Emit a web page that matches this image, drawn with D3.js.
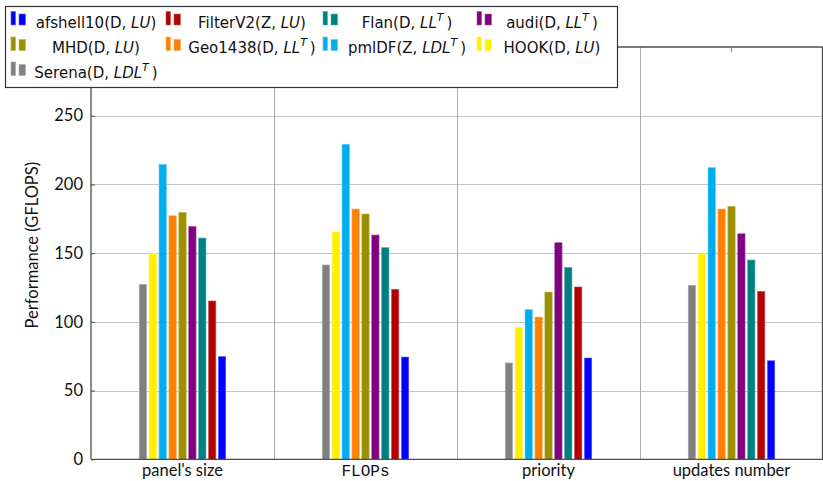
<!DOCTYPE html>
<html>
<head>
<meta charset="utf-8">
<script src="https://cdn.jsdelivr.net/npm/d3@7"></script>
<style>
  html, body { margin: 0; padding: 0; background: #fff; }
  svg { display: block; font-family: Lato, "DejaVu Sans", sans-serif; }
</style>
</head>
<body>
<svg id="chart" width="823" height="481"></svg>
<script>
// Ordering strategies being compared
const categories = ["panel's size", "FLOPs", "priority", "updates number"];

// Matrices (legend order), their arithmetic and factorization
const matrices = ["afshell10", "FilterV2", "Flan", "audi", "MHD", "Geo1438", "pmlDF", "HOOK", "Serena"];
const arithmetic = ["D", "Z", "D", "D", "D", "D", "Z", "D", "D"];
const factorization = [["LU", ""], ["LU", ""], ["LL", "T"], ["LL", "T"], ["LU", ""], ["LL", "T"], ["LDL", "T"], ["LU", ""], ["LDL", "T"]];

// Performance in GFLOPS, one value per ordering strategy
const afshell10 = [74.7, 74.4, 73.7, 71.7];
const FilterV2  = [115.2, 123.7, 125.4, 122.2];
const Flan      = [161.0, 154.0, 139.7, 145.0];
const audi      = [169.5, 163.2, 157.6, 164.1];
const MHD       = [179.7, 178.5, 121.7, 184.1];
const Geo1438   = [177.2, 182.1, 103.5, 182.1];
const pmlDF     = [214.6, 229.2, 108.9, 212.2];
const HOOK      = [149.9, 165.4, 96.0, 149.6];
const Serena    = [127.3, 141.4, 70.1, 126.6];

const yTicks = [0, 50, 100, 150, 200, 250];

const seriesValues = { afshell10, FilterV2, Flan, audi, MHD, Geo1438, pmlDF, HOOK, Serena };
const colors = {
  afshell10: "#0000ff", FilterV2: "#b30000", Flan: "#008080", audi: "#800080",
  MHD: "#9b9100", Geo1438: "#ff8000", pmlDF: "#00aeef", HOOK: "#fff000", Serena: "#808080"
};

const svg = d3.select("#chart");
const margin = { left: 91, right: 0, top: 47, bottom: 22 };
const W = 823, H = 481;
const plotBottom = H - margin.bottom + 0.3;

const x = d3.scaleBand().domain(categories).range([margin.left, W]);
const y = d3.scaleLinear().domain([0, 300]).range([plotBottom, margin.top]);
// bars are drawn right-to-left through the legend order
const inner = d3.scaleBand().domain(matrices.slice().reverse()).range([-43.25, 43.25]).paddingInner(0.26);

// horizontal grid
svg.append("g").selectAll("line").data(yTicks.filter(d => d > 0)).join("line")
  .attr("x1", margin.left).attr("x2", W)
  .attr("y1", d => Math.round(y(d)) + 0.5).attr("y2", d => Math.round(y(d)) + 0.5)
  .attr("stroke", "#c4c4c4").attr("stroke-width", 1);

// vertical separators between groups
svg.append("g").selectAll("line").data(categories.slice(1)).join("line")
  .attr("x1", d => Math.round(x(d)) + 0.5).attr("x2", d => Math.round(x(d)) + 0.5)
  .attr("y1", margin.top).attr("y2", plotBottom)
  .attr("stroke", "#aaaaaa").attr("stroke-width", 1);

// bars
const groups = svg.append("g").selectAll("g").data(categories).join("g")
  .attr("transform", d => `translate(${x(d) + x.bandwidth() / 2},0)`);
groups.selectAll("rect")
  .data((c, ci) => matrices.map(m => ({ m, v: seriesValues[m][ci] })))
  .join("rect")
  .attr("x", d => inner(d.m))
  .attr("width", inner.bandwidth())
  .attr("y", d => y(d.v))
  .attr("height", d => plotBottom - y(d.v))
  .attr("fill", d => colors[d.m])
  .attr("stroke", d => d3.interpolateRgb(colors[d.m], "#fff")(0.35))
  .attr("stroke-width", 0.6);

// axis frame
const frame = svg.append("g").attr("stroke", "#4d4d4d").attr("stroke-width", 1.3).attr("fill", "none");
frame.append("line").attr("x1", margin.left).attr("x2", margin.left).attr("y1", margin.top).attr("y2", plotBottom);
frame.append("line").attr("x1", margin.left).attr("x2", W).attr("y1", plotBottom).attr("y2", plotBottom);
frame.append("line").attr("x1", margin.left).attr("x2", W).attr("y1", margin.top).attr("y2", margin.top);
frame.append("line").attr("x1", W - 0.5).attr("x2", W - 0.5).attr("y1", margin.top).attr("y2", plotBottom);

// y axis ticks and labels
const yAxis = d3.axisLeft(y).tickValues(yTicks).tickSize(-4).tickPadding(8);
const gy = svg.append("g").attr("transform", `translate(${margin.left},0)`).call(yAxis);
gy.select(".domain").remove();
gy.selectAll(".tick line").attr("stroke", "#4d4d4d").attr("stroke-width", 1);
gy.selectAll(".tick text").style("font-family", "Lato, sans-serif").style("font-size", "16.5px").attr("fill", "#111");

// x axis ticks (top, inward) and labels
svg.append("g").selectAll("line").data(categories).join("line")
  .attr("x1", d => x(d) + x.bandwidth() / 2).attr("x2", d => x(d) + x.bandwidth() / 2)
  .attr("y1", margin.top).attr("y2", margin.top + 5)
  .attr("stroke", "#888").attr("stroke-width", 1);
const gx = svg.append("g").attr("transform", `translate(0,${plotBottom})`)
  .call(d3.axisBottom(x).tickSize(0).tickPadding(5));
gx.select(".domain").remove();
gx.selectAll(".tick text")
  .style("font-size", d => d === "FLOPs" ? "16px" : "16.5px")
  .style("font-family", d => d === "FLOPs" ? "'Liberation Mono', monospace" : "Lato, sans-serif")
  .attr("fill", "#111");

// y axis title
svg.append("text")
  .attr("transform", `translate(38,${(margin.top + plotBottom) / 2 - 8}) rotate(-90)`)
  .attr("text-anchor", "middle")
  .attr("fill", "#111")
  .style("font-family", "Lato, sans-serif")
  .style("font-size", "16.5px")
  .text("Performance (GFLOPS)");

// legend
const legend = svg.append("g");
legend.append("rect").attr("x", 5.5).attr("y", 6.5).attr("width", 612).attr("height", 81)
  .attr("fill", "#fff").attr("stroke", "#333").attr("stroke-width", 1.2);

const colIcon = [11, 166, 323, 477];
const colText = [96, 252, 407, 552];
const rowY = [27.5, 53, 78];

matrices.forEach((m, i) => {
  const col = i % 4, row = Math.floor(i / 4);
  const g = legend.append("g").attr("transform", `translate(0,${rowY[row]})`);
  const fill = colors[m];
  const edge = d3.interpolateRgb(fill, "#fff")(0.35);
  g.append("rect").attr("x", colIcon[col]).attr("y", -16).attr("width", 4.5).attr("height", 13.5)
    .attr("fill", fill).attr("stroke", edge).attr("stroke-width", 0.6);
  g.append("rect").attr("x", colIcon[col] + 8).attr("y", -13.5).attr("width", 6.5).attr("height", 11)
    .attr("fill", fill).attr("stroke", edge).attr("stroke-width", 0.6);
  const t = g.append("text").attr("x", colText[col]).attr("y", 0).attr("text-anchor", "middle")
    .attr("fill", "#111")
    .style("font-family", "'DejaVu Sans', sans-serif").style("font-size", "15px");
  t.append("tspan").text(`${m}(${arithmetic[i]}, `);
  t.append("tspan").style("font-style", "italic").text(factorization[i][0]);
  if (factorization[i][1]) {
    t.append("tspan").style("font-style", "italic").style("font-size", "11px").attr("dy", -7).text(factorization[i][1]);
    t.append("tspan").attr("dy", 7).text("\u2009)");
  } else {
    t.append("tspan").text(")");
  }
});
</script>
</body>
</html>
